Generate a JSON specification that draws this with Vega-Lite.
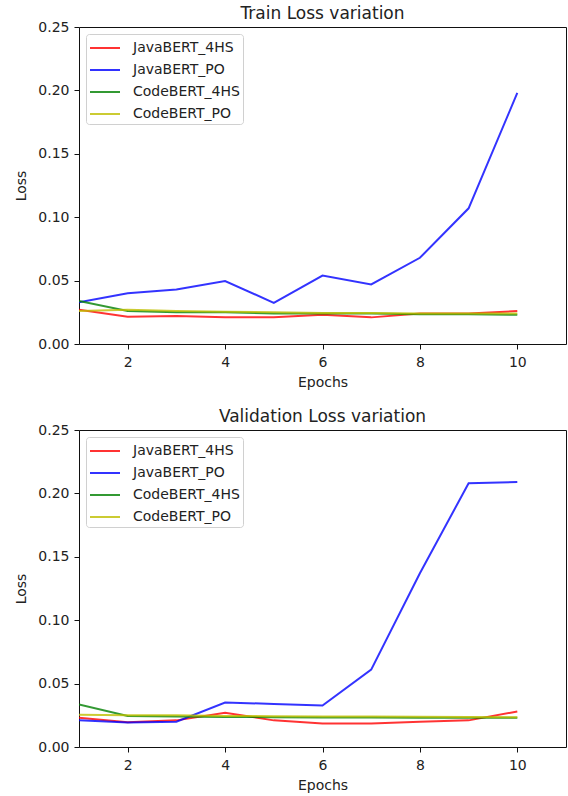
{
  "$schema": "https://vega.github.io/schema/vega-lite/v6.json",
  "padding": {"left": 14, "top": 4, "right": 0, "bottom": 0},
  "background": "white",
  "config": {
    "font": "DejaVu Sans",
    "view": {"stroke": "#111", "strokeWidth": 1},
    "axis": {"grid": false, "domain": false, "tickColor": "#111", "tickSize": 5, "labelPadding": 4, "labelFontSize": 14, "labelColor": "#222", "titleFontSize": 14, "titleFontWeight": "normal", "titleColor": "#222", "labelFont": "DejaVu Sans", "titleFont": "DejaVu Sans"},
    "title": {"fontSize": 17, "fontWeight": "normal", "font": "DejaVu Sans", "color": "#222", "offset": -2, "dy": 1},
    "legend": {"labelFont": "DejaVu Sans", "labelColor": "#222"}
  },
  "datasets": {
    "loss": [
      {"panel": "train", "epoch": 1, "model": "JavaBERT_4HS", "loss": 0.027},
      {"panel": "train", "epoch": 2, "model": "JavaBERT_4HS", "loss": 0.0215},
      {"panel": "train", "epoch": 3, "model": "JavaBERT_4HS", "loss": 0.022},
      {"panel": "train", "epoch": 4, "model": "JavaBERT_4HS", "loss": 0.021},
      {"panel": "train", "epoch": 5, "model": "JavaBERT_4HS", "loss": 0.021},
      {"panel": "train", "epoch": 6, "model": "JavaBERT_4HS", "loss": 0.023},
      {"panel": "train", "epoch": 7, "model": "JavaBERT_4HS", "loss": 0.021},
      {"panel": "train", "epoch": 8, "model": "JavaBERT_4HS", "loss": 0.024},
      {"panel": "train", "epoch": 9, "model": "JavaBERT_4HS", "loss": 0.024},
      {"panel": "train", "epoch": 10, "model": "JavaBERT_4HS", "loss": 0.026},
      {"panel": "train", "epoch": 1, "model": "JavaBERT_PO", "loss": 0.033},
      {"panel": "train", "epoch": 2, "model": "JavaBERT_PO", "loss": 0.040},
      {"panel": "train", "epoch": 3, "model": "JavaBERT_PO", "loss": 0.043},
      {"panel": "train", "epoch": 4, "model": "JavaBERT_PO", "loss": 0.0497},
      {"panel": "train", "epoch": 5, "model": "JavaBERT_PO", "loss": 0.0325},
      {"panel": "train", "epoch": 6, "model": "JavaBERT_PO", "loss": 0.054},
      {"panel": "train", "epoch": 7, "model": "JavaBERT_PO", "loss": 0.047},
      {"panel": "train", "epoch": 8, "model": "JavaBERT_PO", "loss": 0.068},
      {"panel": "train", "epoch": 9, "model": "JavaBERT_PO", "loss": 0.107},
      {"panel": "train", "epoch": 10, "model": "JavaBERT_PO", "loss": 0.198},
      {"panel": "train", "epoch": 1, "model": "CodeBERT_4HS", "loss": 0.034},
      {"panel": "train", "epoch": 2, "model": "CodeBERT_4HS", "loss": 0.026},
      {"panel": "train", "epoch": 3, "model": "CodeBERT_4HS", "loss": 0.025},
      {"panel": "train", "epoch": 4, "model": "CodeBERT_4HS", "loss": 0.025},
      {"panel": "train", "epoch": 5, "model": "CodeBERT_4HS", "loss": 0.024},
      {"panel": "train", "epoch": 6, "model": "CodeBERT_4HS", "loss": 0.024},
      {"panel": "train", "epoch": 7, "model": "CodeBERT_4HS", "loss": 0.024},
      {"panel": "train", "epoch": 8, "model": "CodeBERT_4HS", "loss": 0.0235},
      {"panel": "train", "epoch": 9, "model": "CodeBERT_4HS", "loss": 0.0235},
      {"panel": "train", "epoch": 10, "model": "CodeBERT_4HS", "loss": 0.023},
      {"panel": "train", "epoch": 1, "model": "CodeBERT_PO", "loss": 0.026},
      {"panel": "train", "epoch": 2, "model": "CodeBERT_PO", "loss": 0.027},
      {"panel": "train", "epoch": 3, "model": "CodeBERT_PO", "loss": 0.026},
      {"panel": "train", "epoch": 4, "model": "CodeBERT_PO", "loss": 0.0255},
      {"panel": "train", "epoch": 5, "model": "CodeBERT_PO", "loss": 0.025},
      {"panel": "train", "epoch": 6, "model": "CodeBERT_PO", "loss": 0.0245},
      {"panel": "train", "epoch": 7, "model": "CodeBERT_PO", "loss": 0.0245},
      {"panel": "train", "epoch": 8, "model": "CodeBERT_PO", "loss": 0.024},
      {"panel": "train", "epoch": 9, "model": "CodeBERT_PO", "loss": 0.024},
      {"panel": "train", "epoch": 10, "model": "CodeBERT_PO", "loss": 0.024},
      {"panel": "val", "epoch": 1, "model": "JavaBERT_4HS", "loss": 0.023},
      {"panel": "val", "epoch": 2, "model": "JavaBERT_4HS", "loss": 0.0195},
      {"panel": "val", "epoch": 3, "model": "JavaBERT_4HS", "loss": 0.021},
      {"panel": "val", "epoch": 4, "model": "JavaBERT_4HS", "loss": 0.027},
      {"panel": "val", "epoch": 5, "model": "JavaBERT_4HS", "loss": 0.021},
      {"panel": "val", "epoch": 6, "model": "JavaBERT_4HS", "loss": 0.0185},
      {"panel": "val", "epoch": 7, "model": "JavaBERT_4HS", "loss": 0.0185},
      {"panel": "val", "epoch": 8, "model": "JavaBERT_4HS", "loss": 0.020},
      {"panel": "val", "epoch": 9, "model": "JavaBERT_4HS", "loss": 0.021},
      {"panel": "val", "epoch": 10, "model": "JavaBERT_4HS", "loss": 0.028},
      {"panel": "val", "epoch": 1, "model": "JavaBERT_PO", "loss": 0.021},
      {"panel": "val", "epoch": 2, "model": "JavaBERT_PO", "loss": 0.0193},
      {"panel": "val", "epoch": 3, "model": "JavaBERT_PO", "loss": 0.020},
      {"panel": "val", "epoch": 4, "model": "JavaBERT_PO", "loss": 0.035},
      {"panel": "val", "epoch": 5, "model": "JavaBERT_PO", "loss": 0.034},
      {"panel": "val", "epoch": 6, "model": "JavaBERT_PO", "loss": 0.0327},
      {"panel": "val", "epoch": 7, "model": "JavaBERT_PO", "loss": 0.061},
      {"panel": "val", "epoch": 8, "model": "JavaBERT_PO", "loss": 0.137},
      {"panel": "val", "epoch": 9, "model": "JavaBERT_PO", "loss": 0.208},
      {"panel": "val", "epoch": 10, "model": "JavaBERT_PO", "loss": 0.209},
      {"panel": "val", "epoch": 1, "model": "CodeBERT_4HS", "loss": 0.0335},
      {"panel": "val", "epoch": 2, "model": "CodeBERT_4HS", "loss": 0.0245},
      {"panel": "val", "epoch": 3, "model": "CodeBERT_4HS", "loss": 0.024},
      {"panel": "val", "epoch": 4, "model": "CodeBERT_4HS", "loss": 0.0237},
      {"panel": "val", "epoch": 5, "model": "CodeBERT_4HS", "loss": 0.0235},
      {"panel": "val", "epoch": 6, "model": "CodeBERT_4HS", "loss": 0.0233},
      {"panel": "val", "epoch": 7, "model": "CodeBERT_4HS", "loss": 0.0232},
      {"panel": "val", "epoch": 8, "model": "CodeBERT_4HS", "loss": 0.023},
      {"panel": "val", "epoch": 9, "model": "CodeBERT_4HS", "loss": 0.023},
      {"panel": "val", "epoch": 10, "model": "CodeBERT_4HS", "loss": 0.023},
      {"panel": "val", "epoch": 1, "model": "CodeBERT_PO", "loss": 0.0255},
      {"panel": "val", "epoch": 2, "model": "CodeBERT_PO", "loss": 0.025},
      {"panel": "val", "epoch": 3, "model": "CodeBERT_PO", "loss": 0.025},
      {"panel": "val", "epoch": 4, "model": "CodeBERT_PO", "loss": 0.0245},
      {"panel": "val", "epoch": 5, "model": "CodeBERT_PO", "loss": 0.0243},
      {"panel": "val", "epoch": 6, "model": "CodeBERT_PO", "loss": 0.024},
      {"panel": "val", "epoch": 7, "model": "CodeBERT_PO", "loss": 0.024},
      {"panel": "val", "epoch": 8, "model": "CodeBERT_PO", "loss": 0.0238},
      {"panel": "val", "epoch": 9, "model": "CodeBERT_PO", "loss": 0.0237},
      {"panel": "val", "epoch": 10, "model": "CodeBERT_PO", "loss": 0.0235}
    ]
  },
  "data": {"name": "loss"},
  "spacing": 17,
  "resolve": {"legend": {"color": "independent"}, "scale": {"color": "independent"}},
  "vconcat": [
    {
      "title": "Train Loss variation",
      "width": 487,
      "height": 317,
      "transform": [{"filter": "datum.panel === 'train'"}],
      "mark": {"type": "line", "strokeWidth": 2, "opacity": 0.8, "clip": true},
      "encoding": {
        "x": {"field": "epoch", "type": "quantitative", "title": "Epochs", "scale": {"domain": [1, 11], "nice": false, "zero": false}, "axis": {"values": [2, 4, 6, 8, 10], "labelPadding": 6, "titlePadding": 6}},
        "y": {"field": "loss", "type": "quantitative", "title": "Loss", "scale": {"domain": [0, 0.25], "nice": false}, "axis": {"values": [0, 0.05, 0.1, 0.15, 0.2, 0.25], "format": ".2f", "labelPadding": 5, "titlePadding": 9}},
        "color": {"field": "model", "type": "nominal", "sort": ["JavaBERT_4HS", "JavaBERT_PO", "CodeBERT_4HS", "CodeBERT_PO"],
          "scale": {"domain": ["JavaBERT_4HS", "JavaBERT_PO", "CodeBERT_4HS", "CodeBERT_PO"], "range": ["#ff0000", "#0000ff", "#008000", "#bfbf00"]},
          "legend": {"title": null, "orient": "top-left", "offset": 7, "symbolType": "M-1,0H2", "symbolSize": 400, "symbolStrokeWidth": 2, "symbolOpacity": 0.8, "labelFontSize": 14, "rowPadding": 4, "padding": 3, "strokeColor": "#d0d0d0", "fillColor": "white", "cornerRadius": 3, "labelOffset": 22}},
        "order": {"field": "epoch", "type": "quantitative"}
      }
    },
    {
      "title": "Validation Loss variation",
      "width": 487,
      "height": 317,
      "transform": [{"filter": "datum.panel === 'val'"}],
      "mark": {"type": "line", "strokeWidth": 2, "opacity": 0.8, "clip": true},
      "encoding": {
        "x": {"field": "epoch", "type": "quantitative", "title": "Epochs", "scale": {"domain": [1, 11], "nice": false, "zero": false}, "axis": {"values": [2, 4, 6, 8, 10], "labelPadding": 6, "titlePadding": 6}},
        "y": {"field": "loss", "type": "quantitative", "title": "Loss", "scale": {"domain": [0, 0.25], "nice": false}, "axis": {"values": [0, 0.05, 0.1, 0.15, 0.2, 0.25], "format": ".2f", "labelPadding": 5, "titlePadding": 9}},
        "color": {"field": "model", "type": "nominal", "sort": ["JavaBERT_4HS", "JavaBERT_PO", "CodeBERT_4HS", "CodeBERT_PO"],
          "scale": {"domain": ["JavaBERT_4HS", "JavaBERT_PO", "CodeBERT_4HS", "CodeBERT_PO"], "range": ["#ff0000", "#0000ff", "#008000", "#bfbf00"]},
          "legend": {"title": null, "orient": "top-left", "offset": 7, "symbolType": "M-1,0H2", "symbolSize": 400, "symbolStrokeWidth": 2, "symbolOpacity": 0.8, "labelFontSize": 14, "rowPadding": 4, "padding": 3, "strokeColor": "#d0d0d0", "fillColor": "white", "cornerRadius": 3, "labelOffset": 22}},
        "order": {"field": "epoch", "type": "quantitative"}
      }
    }
  ]
}
